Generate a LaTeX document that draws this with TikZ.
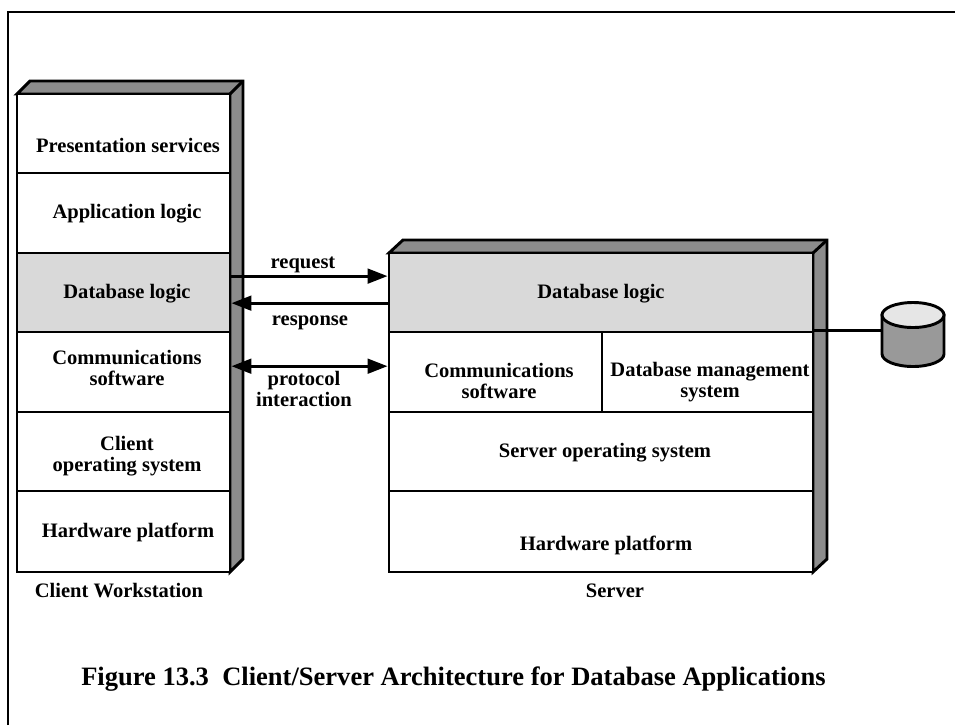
\documentclass[tikz,border=0pt]{standalone}
\usepackage{fontspec}
\setmainfont{Liberation Serif}
\usepackage{xcolor}
\usetikzlibrary{calc,arrows.meta}
\definecolor{side}{HTML}{8C8C8C}
\definecolor{shade}{HTML}{D9D9D9}
\definecolor{disktop}{HTML}{E6E6E6}
\definecolor{diskbody}{HTML}{999999}
\tikzset{
  outline/.style={draw=black, line width=2.2pt, line join=miter},
  face/.style={outline, fill=side},
  layer/.style={draw=black, line width=2.2pt, fill=white, inner sep=0pt, minimum width=#1*0.75pt},
  lab/.style={font=\fontsize{15.4}{15.8}\selectfont\bfseries, align=center, inner sep=0pt},
  caption/.style={font=\fontsize{19.9}{22}\selectfont\bfseries, anchor=west, inner sep=0pt},
  link/.style={draw=black, line width=2.2pt},
  onehead/.style={-{Triangle[length=15pt,width=11pt]}},
  twohead/.style={{Triangle[length=15pt,width=11pt]}-{Triangle[length=15pt,width=11pt]}},
}
\begin{document}
\begin{tikzpicture}[x=0.75pt,y=-0.75pt]
  \useasboundingbox (0,0) rectangle (955,725);
  \draw[outline] (8,725)--(8,12)--(955,12);
  % client stack
  \draw[face] (17,94)--(30,81)--(243,81)--(243,559)--(230,572)--(230,94)--cycle;
  \draw[outline] (230,94)--(243,81);
  \node[layer=213, minimum height=59.25pt] (c1) at (123.5,133.5) {};
  \node[layer=213, minimum height=60pt] (c2) at (123.5,213) {};
  \node[layer=213, minimum height=59.25pt, fill=shade] (c3) at (123.5,292.5) {};
  \node[layer=213, minimum height=60pt] (c4) at (123.5,372) {};
  \node[layer=213, minimum height=59.25pt] (c5) at (123.5,451.5) {};
  \node[layer=213, minimum height=60.75pt] (c6) at (123.5,531.5) {};
  % server stack
  \draw[face] (389,253)--(403,240)--(827,240)--(827,559)--(813,572)--(813,253)--cycle;
  \draw[outline] (813,253)--(827,240);
  \node[layer=424, minimum height=59.25pt, fill=shade] (s1) at (601,292.5) {};
  \node[layer=213, minimum height=60pt] (s2) at (495.5,372) {};
  \node[layer=211, minimum height=60pt] (s3) at (707.5,372) {};
  \node[layer=424, minimum height=59.25pt] (s4) at (601,451.5) {};
  \node[layer=424, minimum height=60.75pt] (s5) at (601,531.5) {};
  % disk
  \coordinate (d) at (882,332);
  \draw[link] (s3.north east)--(s3.north east -| d);
  \draw[outline, fill=diskbody] (882,315)--(882,354) arc[start angle=180,end angle=0,x radius=31,y radius=12.5]
    --(944,315)--cycle;
  \draw[outline, fill=disktop] (913,315) ellipse[x radius=31,y radius=12.5];
  % links
  \draw[link,onehead] ($(c3.north east)!0.30!(c3.south east)$)--($(s1.north west)!0.30!(s1.south west)$);
  \draw[link,onehead] ($(s1.north west)!0.63!(s1.south west)$)--($(c3.north east)!0.63!(c3.south east)$);
  \draw[link,twohead] ($(c4.north east)!0.43!(c4.south east)$)--($(s2.north west)!0.43!(s2.south west)$);
  % labels
  \node[lab] (t1) at (128,145) {Presentation services};
  \node[lab] (t2) at (127,214) {Application logic};
  \node[lab] (t3) at (127,294) {Database logic};
  \node[lab] (t4) at (127,368) {Communications\\software};
  \node[lab] (t5) at (127,456) {Client\\operating system};
  \node[lab] (t6) at (128,532) {Hardware platform};
  \node[lab] (t7) at (119,591) {Client Workstation};
  \node[lab] (t8) at (601,294) {Database logic};
  \node[lab] (t9) at (499,381) {Communications\\software};
  \node[lab] (t10) at (710,382) {Database management\\system};
  \node[lab] (t11) at (605,453) {Server operating system};
  \node[lab] (t12) at (606,545) {Hardware platform};
  \node[lab] (t13) at (615,591) {Server};
  \node[lab] (t14) at (303,265) {request};
  \node[lab] (t15) at (310,323) {response};
  \node[lab] (t16) at (304,389) {protocol\\interaction};
  \node[caption] (fig) at (81,679) {Figure 13.3\hspace{0.25em} Client/Server Architecture for Database Applications};
\end{tikzpicture}
\end{document}
